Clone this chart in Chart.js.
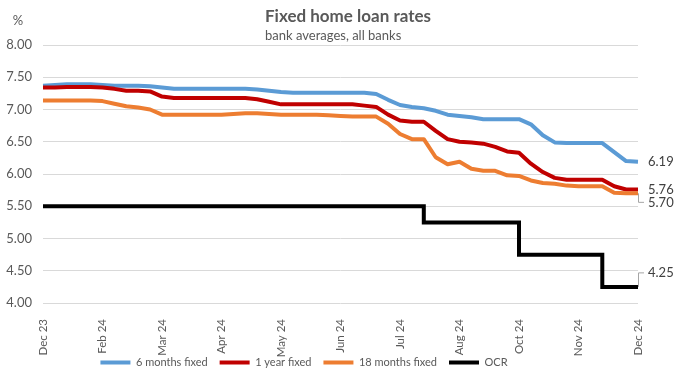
<!DOCTYPE html>
<html>
<head>
<meta charset="utf-8">
<script src="https://cdn.jsdelivr.net/npm/chart.js@4"></script>
<style>
  html, body { margin: 0; padding: 0; background: #fff; }
</style>
</head>
<body>
<canvas id="rates" width="687" height="374"></canvas>
<script>
// weekly observations (Fridays)
const weeks = [
  '29 Dec 23', '05 Jan 24', '12 Jan 24', '19 Jan 24', '26 Jan 24',
  '02 Feb 24', '09 Feb 24', '16 Feb 24', '23 Feb 24', '01 Mar 24',
  '08 Mar 24', '15 Mar 24', '22 Mar 24', '29 Mar 24', '05 Apr 24',
  '12 Apr 24', '19 Apr 24', '26 Apr 24', '03 May 24', '10 May 24',
  '17 May 24', '24 May 24', '31 May 24', '07 Jun 24', '14 Jun 24',
  '21 Jun 24', '28 Jun 24', '05 Jul 24', '12 Jul 24', '19 Jul 24',
  '26 Jul 24', '02 Aug 24', '09 Aug 24', '16 Aug 24', '23 Aug 24',
  '30 Aug 24', '06 Sep 24', '13 Sep 24', '20 Sep 24', '27 Sep 24',
  '04 Oct 24', '11 Oct 24', '18 Oct 24', '25 Oct 24', '01 Nov 24',
  '08 Nov 24', '15 Nov 24', '22 Nov 24', '29 Nov 24', '06 Dec 24',
  '13 Dec 24'
];

const sixMonths = [
  7.37, 7.38, 7.39, 7.39, 7.39, 7.38, 7.37, 7.37, 7.37, 7.36,
  7.34, 7.32, 7.32, 7.32, 7.32, 7.32, 7.32, 7.32, 7.31, 7.29,
  7.27, 7.26, 7.26, 7.26, 7.26, 7.26, 7.26, 7.26, 7.24, 7.15,
  7.07, 7.04, 7.02, 6.98, 6.92, 6.90, 6.88, 6.85, 6.85, 6.85,
  6.85, 6.77, 6.60, 6.49, 6.48, 6.48, 6.48, 6.48, 6.34, 6.20,
  6.19
];

const oneYear = [
  7.34, 7.34, 7.35, 7.35, 7.35, 7.34, 7.32, 7.29, 7.29, 7.28,
  7.20, 7.18, 7.18, 7.18, 7.18, 7.18, 7.18, 7.18, 7.16, 7.12,
  7.08, 7.08, 7.08, 7.08, 7.08, 7.08, 7.08, 7.06, 7.04, 6.92,
  6.83, 6.81, 6.81, 6.67, 6.54, 6.50, 6.49, 6.47, 6.42, 6.35,
  6.33, 6.16, 6.03, 5.94, 5.91, 5.91, 5.91, 5.91, 5.81, 5.76,
  5.76
];

const eighteenMonths = [
  7.14, 7.14, 7.14, 7.14, 7.14, 7.13, 7.09, 7.05, 7.03, 7.00,
  6.92, 6.92, 6.92, 6.92, 6.92, 6.92, 6.93, 6.94, 6.94, 6.93,
  6.92, 6.92, 6.92, 6.92, 6.91, 6.90, 6.89, 6.89, 6.89, 6.78,
  6.62, 6.54, 6.54, 6.26, 6.15, 6.19, 6.08, 6.05, 6.05, 5.98,
  5.97, 5.90, 5.86, 5.85, 5.82, 5.81, 5.81, 5.81, 5.71, 5.70,
  5.70
];

const ocr = [
  5.50, 5.50, 5.50, 5.50, 5.50, 5.50, 5.50, 5.50, 5.50, 5.50,
  5.50, 5.50, 5.50, 5.50, 5.50, 5.50, 5.50, 5.50, 5.50, 5.50,
  5.50, 5.50, 5.50, 5.50, 5.50, 5.50, 5.50, 5.50, 5.50, 5.50,
  5.50, 5.50, 5.25, 5.25, 5.25, 5.25, 5.25, 5.25, 5.25, 5.25,
  4.75, 4.75, 4.75, 4.75, 4.75, 4.75, 4.75, 4.25, 4.25, 4.25,
  4.25
];

const seriesNames = ['6 months fixed', '1 year fixed', '18 months fixed', 'OCR'];
const titleText = 'Fixed home loan rates';
const subtitleText = 'bank averages, all banks';

Chart.defaults.font.family = 'Lato';
Chart.defaults.color = '#595959';

// title block and the % unit, left aligned like the original
const header = {
  id: 'header',
  afterDraw(chart) {
    const ctx = chart.ctx;
    ctx.save();
    ctx.fillStyle = '#595959';
    ctx.textBaseline = 'middle';
    ctx.font = 'bold 17px Lato';
    ctx.fillText(titleText, 265, 17);
    ctx.font = '13px Lato';
    ctx.fillText(subtitleText, 265, 36);
    ctx.textAlign = 'center';
    ctx.fillText('%', 18, 21);
    ctx.restore();
  }
};

// last value of every series, some nudged with a leader line
const endLabels = {
  id: 'endLabels',
  afterDatasetsDraw(chart) {
    const ctx = chart.ctx;
    const shift = [0, 0, 9, -14];
    ctx.save();
    ctx.font = '13px Lato';
    ctx.textBaseline = 'middle';
    chart.data.datasets.forEach((ds, i) => {
      const pts = chart.getDatasetMeta(i).data;
      const pt = pts[pts.length - 1];
      const y = pt.y + shift[i];
      if (shift[i]) {
        ctx.strokeStyle = '#a6a6a6';
        ctx.lineWidth = 1;
        ctx.beginPath();
        ctx.moveTo(pt.x + 0.5, pt.y);
        ctx.lineTo(pt.x + 0.5, y);
        ctx.lineTo(pt.x + 6, y);
        ctx.stroke();
      }
      ctx.fillStyle = '#404040';
      ctx.fillText(ds.data[ds.data.length - 1].toFixed(2), pt.x + 10, y);
    });
    ctx.restore();
  }
};

// the original legend sits a bit left of centre and overlaps the tick band
const legendShift = {
  id: 'legendShift',
  afterLayout(chart) {
    const lg = chart.legend;
    lg.left -= 15;
    lg.right -= 15;
    lg.top -= 13;
    lg.bottom -= 13;
  }
};

const colors = ['#5b9bd5', '#c00000', '#ed7d31', '#000000'];
const values = [sixMonths, oneYear, eighteenMonths, ocr];

new Chart(document.getElementById('rates'), {
  type: 'line',
  data: {
    labels: weeks,
    datasets: values.map((d, i) => ({
      label: seriesNames[i],
      data: d,
      borderColor: colors[i],
      backgroundColor: colors[i],
      borderWidth: 4,
      pointRadius: 0,
      tension: 0,
      borderJoinStyle: i === 3 ? 'miter' : 'round',
      borderCapStyle: 'butt',
      stepped: i === 3 ? 'before' : false,
      order: 4 - i
    }))
  },
  options: {
    responsive: false,
    animation: false,
    devicePixelRatio: 1,
    layout: { padding: { top: 45, right: 49, bottom: -17, left: 0 } },
    plugins: {
      title: { display: false },
      tooltip: { enabled: false },
      legend: {
        position: 'bottom',
        labels: {
          boxWidth: 30,
          boxHeight: 4,
          padding: 12,
          color: '#595959',
          font: { size: 11 },
          sort: (a, b) => a.datasetIndex - b.datasetIndex,
          generateLabels(chart) {
            return Chart.defaults.plugins.legend.labels.generateLabels(chart)
              .map(l => Object.assign(l, { lineWidth: 0 }));
          }
        }
      }
    },
    scales: {
      x: {
        grid: { display: false },
        border: { display: false },
        ticks: {
          autoSkip: false,
          maxRotation: 90,
          minRotation: 90,
          padding: 8,
          color: '#595959',
          font: { size: 11.5 },
          callback(v, i) {
            return i % 5 === 0 ? weeks[i].slice(3) : '';
          }
        },
        afterFit(s) { s.height = 55; }
      },
      y: {
        min: 4,
        max: 8,
        border: { display: false },
        grid: { color: '#d9d9d9', drawTicks: false, lineWidth: 1 },
        ticks: {
          stepSize: 0.5,
          padding: 11,
          color: '#595959',
          font: { size: 13 },
          callback: v => v.toFixed(2)
        },
        afterFit(s) { s.width = 43; }
      }
    }
  },
  plugins: [header, endLabels, legendShift]
});
</script>
</body>
</html>
